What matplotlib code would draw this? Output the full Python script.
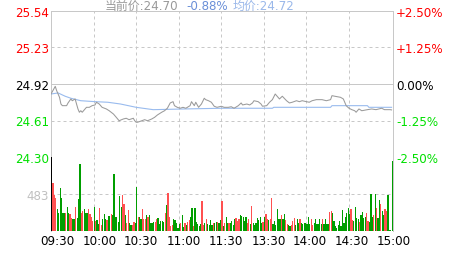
import matplotlib
matplotlib.use('Agg')
import matplotlib.pyplot as plt
from matplotlib.transforms import ScaledTranslation

# ---------------- data ----------------
prev_close = 24.92
price_min = [0,3,4,6,7,8,11,12,14,15,17,18,19,20,21,22,24,25,27,29,
             31,32,34,36,39,41,44,46,48,51,53,55,58,59,60,61,64,66,68,71,
             73,75,78,80,82,84,86,87,89,91,93,95,98,99,101,102,104,106,108,109,
             111,113,115,117,120,122,125,127,129,132,134,135,138,140,142,143,146,148,149,152,
             154,156,158,160,161,163,166,168,170,173,175,177,180,182,184,187,191,194,197,198,
             200,204,206,208,210,212,214,215,217,219,223,226,229,233,235,239,240]
price_val = [24.835,24.900,24.863,24.807,24.750,24.736,24.736,24.759,24.793,24.778,
             24.793,24.750,24.708,24.680,24.693,24.680,24.708,24.722,24.722,24.736,
             24.742,24.765,24.750,24.722,24.708,24.693,24.665,24.637,24.608,24.623,
             24.629,24.617,24.629,24.608,24.595,24.595,24.608,24.617,24.608,24.623,
             24.637,24.657,24.680,24.693,24.714,24.759,24.770,24.736,24.722,24.714,
             24.722,24.714,24.736,24.770,24.736,24.765,24.722,24.750,24.799,24.787,
             24.778,24.765,24.731,24.722,24.731,24.722,24.722,24.727,24.714,24.736,
             24.759,24.742,24.750,24.742,24.759,24.778,24.770,24.750,24.731,24.736,
             24.765,24.787,24.835,24.807,24.793,24.816,24.778,24.759,24.765,24.778,
             24.770,24.778,24.770,24.765,24.778,24.787,24.787,24.778,24.787,24.821,
             24.816,24.807,24.793,24.736,24.714,24.702,24.693,24.680,24.708,24.693,
             24.702,24.708,24.702,24.714,24.702,24.702,24.700]
avg_min = [0,5,10,14,21,31,40,49,60,72,94,120,156,157,197,198,223,224,240]
avg_val = [24.835,24.844,24.816,24.799,24.778,24.770,24.765,24.750,24.722,24.702,
           24.708,24.714,24.714,24.722,24.722,24.736,24.736,24.722,24.722]

vol_morning = [1500,631,465,435,283,231,557,435,239,231,
               231,318,239,218,174,161,161,318,174,413,
               870,239,261,283,231,239,283,218,187,131,
               318,131,144,96,296,78,161,218,161,144,
               196,196,218,204,740,187,187,122,457,309,
               470,348,204,100,274,100,74,83,117,100,
               579,187,187,152,283,161,161,204,187,204,
               100,100,117,117,152,174,87]
col_morning = "krrrgggggg" "rggrrggrgg" "grrgggrrrr" "grggrrgggr" "ggrggggggg" \
              "rrgrrggrrg" "grggrrrgrg" "gggrrgg"
vol_mid = [130,130,117,239,335,492,187,65,74,152,
           144,100,43,96,109,204,57,109,74,122,
           144,187,305,65,305,117,96,65,87,392,
           74,100,152,96,74,139,74,100,109,117,
           117,109,144,392,65,100,187,109,109,100,
           130,78,152,174,130,152,204,196,183,135,
           187,109,161,96,326,100,78,109,174,144,
           183,100,117,183,218,161,144,161,426,96,
           130,74,283,152,161,204,152,218,139,87,
           74,65,74,130,174,74,152,109]
col_mid = "gggrgrrrrg" "ggggrggrgr" "rggrgggggr" "rgrggggrgg" "rggrgrggrg" \
          "gggrrrgggg" "grrgrggggg" "ggrgrrgrrg" "gggggrggrr" "ggrrrggg"
vol_late = [152,100,96,109,109,96,187,87,152,74,
            100,152,87,87,152,87,152,87,152,87,
            96,248,261,231,130,65,43,74,130,65,
            274,100,187,239,305,218,283,144,130,318,
            174,161,117,204,248,174,187,231,130,117,
            478,187,204,478,305,165,400,348,261,204,
            283,261,465,13,13,913]
col_late = "rgggggggrr" "ggggggrggg" "grrggggggg" "ggggggrrgg" "ggrggggrrg" \
           "ggrgrggrgg" "rrgggg"

volumes = vol_morning + vol_mid + vol_late
vol_colors = list(col_morning + col_mid + col_late)

left_ticks = [25.54, 25.23, 24.92, 24.61, 24.30]
left_labels = ["25.54", "25.23", "24.92", "24.61", "24.30"]
right_labels = ["+2.50%", "+1.25%", "0.00%", "-1.25%", "-2.50%"]
vol_max = 966
vol_tick = 483
time_ticks = [0, 30, 60, 90, 120, 150, 180, 210, 240]
time_labels = ["09:30", "10:00", "10:30", "11:00", "11:30", "13:30", "14:00", "14:30", "15:00"]
title_parts = ["当前价:24.70", "-0.88%", "均价:24.72"]

# ---------------- style ----------------
RED = '#ff0000'
GREEN = '#00e000'
GRID = '#c8c8c8'
bar_cmap = {'k': '#000000', 'r': '#ff5050', 'g': '#009e00'}
label_colors = [RED, RED, '#000000', GREEN, GREEN]
label_dx = [6.3, 6.4, 4.4, 4.6, 4.7, 5.1, 3.6, 2.7, 2.1]
FS = 8.6

W, H = 463, 255
fig = plt.figure(figsize=(W / 100, H / 100), dpi=100)
fig.patch.set_facecolor('white')


def frac(x0, y0, x1, y1):
    return [x0 / W, 1 - y1 / H, (x1 - x0) / W, (y1 - y0) / H]


axp = fig.add_axes(frac(51, 12, 393, 158))
axv = fig.add_axes(frac(51, 158, 393, 232), sharex=axp)

n = len(volumes)
axp.set_xlim(0, n)
axp.set_ylim(left_ticks[-1], left_ticks[0])
axv.set_ylim(0, vol_max)

dash = (0, (3, 3))
lw = 0.72
# grids
for t in time_ticks[1:-1]:
    axp.axvline(t, color=GRID, lw=lw, ls=dash, zorder=1)
    axv.axvline(t, color=GRID, lw=lw, ls=dash, zorder=1)
axp.axhline(left_ticks[1], color=GRID, lw=lw, ls=dash, zorder=1)
axp.axhline(left_ticks[3], color=GRID, lw=lw, ls=dash, zorder=1)
axp.axhline(prev_close, color=GRID, lw=lw, zorder=1)
axv.axhline(vol_tick, color=GRID, lw=lw, ls=dash, zorder=1)

# lines
axp.plot(avg_min, avg_val, color='#99bbee', lw=0.8, zorder=3)
axp.plot(price_min, price_val, color='#9a9a9a', lw=0.75, zorder=4)

# volume bars
axv.bar(range(n), volumes, width=0.86, align='edge',
        color=[bar_cmap[c] for c in vol_colors], linewidth=0,
        antialiased=False, zorder=3)

# spines
for ax in (axp, axv):
    for s in ax.spines.values():
        s.set_color(GRID)
        s.set_linewidth(lw)
axv.spines['top'].set_visible(False)
axv.spines['bottom'].set_visible(False)

# left price labels
axp.set_yticks(left_ticks)
axp.set_yticklabels(left_labels, fontsize=FS, family='DejaVu Sans')
for lab, c in zip(axp.get_yticklabels(), label_colors):
    lab.set_color(c)
axp.tick_params(axis='y', length=0, pad=1.5)
axp.tick_params(axis='x', length=0, labelbottom=False)

# right percent labels
axr = axp.twinx()
axr.set_ylim(axp.get_ylim())
axr.set_yticks(left_ticks)
axr.set_yticklabels(right_labels, fontsize=FS, family='DejaVu Sans')
for lab, c in zip(axr.get_yticklabels(), label_colors):
    lab.set_color(c)
axr.tick_params(axis='y', length=0, pad=2.2)
for s in axr.spines.values():
    s.set_visible(False)

# volume label
axv.set_yticks([vol_tick])
axv.set_yticklabels([str(vol_tick)], fontsize=FS, color='#c0c0c0', family='DejaVu Sans')
axv.tick_params(axis='y', length=0, pad=1.5)

# time labels
axv.set_xticks(time_ticks)
axv.set_xticklabels(time_labels, fontsize=FS, family='DejaVu Sans', color='black')
axv.tick_params(axis='x', length=0, pad=2.5)
for lab, dx in zip(axv.get_xticklabels(), label_dx):
    lab.set_transform(lab.get_transform() + ScaledTranslation(dx / 100, 0, fig.dpi_scale_trans))

# title
fam = ['DejaVu Sans', 'Noto Sans CJK SC']
ty = 1 - 9.5 / H
fig.text(105 / W, ty, title_parts[0], color='#999999', fontsize=FS, family=fam, va='baseline')
fig.text(186.5 / W, ty, title_parts[1], color='#6a8fd8', fontsize=FS, family=fam, va='baseline')
fig.text(233 / W, ty, title_parts[2], color='#9ab8ea', fontsize=FS, family=fam, va='baseline')

fig.savefig('out.png', dpi=100, facecolor='white')
